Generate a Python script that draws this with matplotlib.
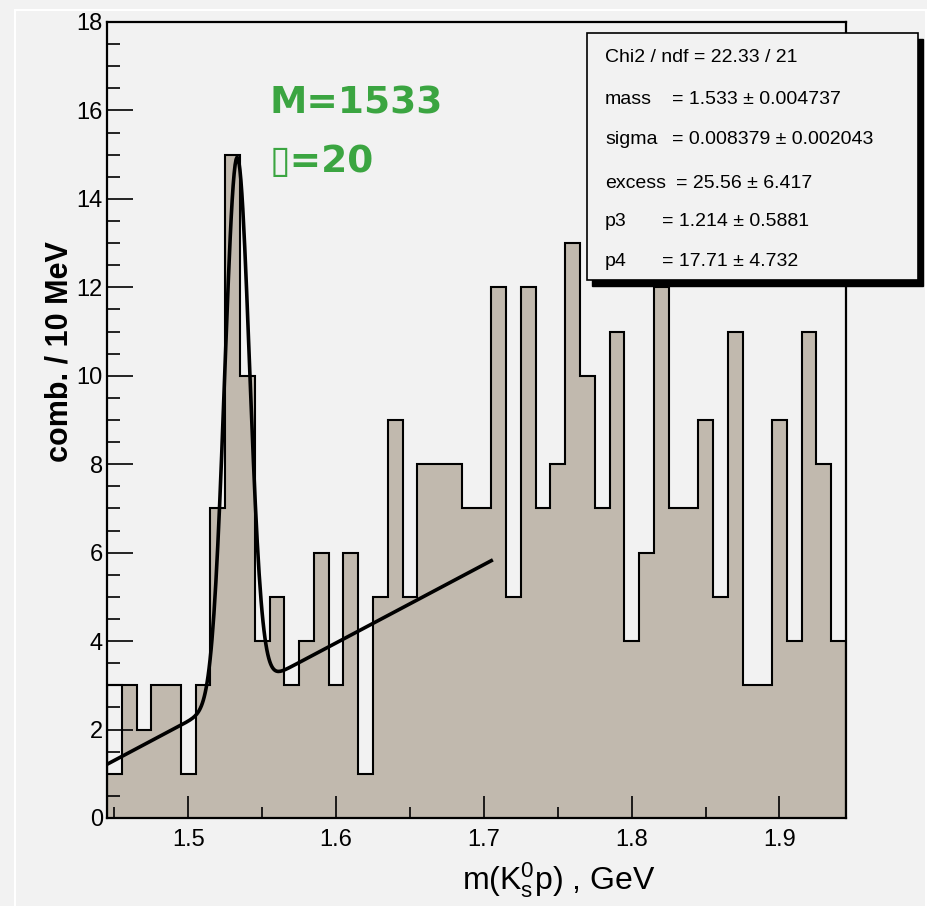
import numpy as np
import matplotlib
matplotlib.use("Agg")
import matplotlib.pyplot as plt
from matplotlib.patches import Rectangle

# histogram: 10 MeV bins starting at 1.445 GeV
x_lo = 1.445
bin_width = 0.01
counts = [1, 3, 2, 3, 3, 1, 3, 7, 15, 10,
          4, 5, 3, 4, 6, 3, 6, 1, 5, 9,
          5, 8, 8, 8, 7, 7, 12, 5, 12, 7,
          8, 13, 10, 7, 11, 4, 6, 12, 7, 7,
          9, 5, 11, 3, 3, 9, 4, 11, 8, 4]
first_bin_frame = 3  # odd outline drawn over the first bin

# fit result (gaus + linear background)
fit_mass, fit_sigma, fit_excess = 1.533, 0.008379, 25.56
fit_p3, fit_p4 = 1.214, 17.71
fit_range = (1.445, 1.705)

stat_names = ["mass", "sigma", "excess", "p3", "p4"]
stat_values = ["1.533 \u00b1 0.004737", "0.008379 \u00b1 0.002043",
               "25.56 \u00b1 6.417", "1.214 \u00b1 0.5881", "17.71 \u00b1 4.732"]
chi2_text = "Chi2 / ndf = 22.33 / 21"

BG = "#f2f2f2"
FILL = "#c1b9ae"
GREEN = "#3ba541"
SANS = ["Liberation Sans", "DejaVu Sans"]

W, H = 928, 906
fig = plt.figure(figsize=(W / 100, H / 100), dpi=100, facecolor=BG)


def fx(px):
    return px / W


def fy(py):
    return 1 - py / H


ax = fig.add_axes([fx(107), fy(818), fx(846 - 107), (818 - 22) / H])
ax.set_facecolor(BG)

edges = x_lo + bin_width * np.arange(len(counts) + 1)
ax.stairs(counts, edges, fill=True, color=FILL, zorder=1)
outline = [first_bin_frame] + counts[1:]
ax.stairs(outline, edges, color="black", lw=1.5, zorder=2)
ax.add_patch(Rectangle((edges[0], counts[0]), bin_width, first_bin_frame - counts[0],
                       fill=False, ec="black", lw=1.5, zorder=2))

# fit curve
xf = np.linspace(fit_range[0], fit_range[1], 400)
amp = fit_excess * bin_width / (np.sqrt(2 * np.pi) * fit_sigma)
yf = amp * np.exp(-0.5 * ((xf - fit_mass) / fit_sigma) ** 2) + fit_p3 + fit_p4 * (xf - x_lo)
ax.plot(xf, yf, color="black", lw=2.6, zorder=3)

ax.set_xlim(1.445, 1.945)
ax.set_ylim(0, 18)
ax.set_xticks([1.5, 1.6, 1.7, 1.8, 1.9])
ax.set_xticks(np.arange(1.45, 1.95, 0.1), minor=True)
ax.set_yticks(np.arange(0, 19, 2))
ax.set_yticks(np.arange(0, 18.01, 0.5), minor=True)
ax.tick_params(which="both", direction="in", top=False, right=False, width=1.2, color="black")
ax.tick_params(axis="y", which="major", length=19, pad=3, labelsize=17)
ax.tick_params(axis="y", which="minor", length=9)
ax.tick_params(axis="x", which="major", length=16, pad=8, labelsize=17)
ax.tick_params(axis="x", which="minor", length=8)
for lab in ax.get_xticklabels() + ax.get_yticklabels():
    lab.set_family(SANS)
for s in ax.spines.values():
    s.set_linewidth(1.6)
    s.set_zorder(4)

# axis titles
fig.text(fx(655), fy(890), r"m(K$\mathregular{_s^0}$p) , GeV", ha="right", va="baseline",
         fontsize=23, family=SANS)
fig.text(fx(60), fy(352), "comb. / 10 MeV", rotation=90, ha="center", va="center",
         fontsize=22, fontweight="bold", family=SANS)

# green annotation
ax.text(fx(270), fy(103), "M=1533", transform=fig.transFigure, ha="left", va="center",
        fontsize=27, fontweight="bold", color=GREEN)
ax.text(fx(270), fy(162), "\u25af=20", transform=fig.transFigure, ha="left", va="center",
        fontsize=27, fontweight="bold", color=GREEN)

# stats box with shadow
bl, bt, br, bb = 587, 33, 918, 280
fig.patches.append(Rectangle((fx(bl + 5), fy(bb + 6)), fx(br - bl), (bb - bt) / H,
                             transform=fig.transFigure, fc="black", ec="black", zorder=5))
fig.patches.append(Rectangle((fx(bl), fy(bb)), fx(br - bl), (bb - bt) / H,
                             transform=fig.transFigure, fc=BG, ec="black", lw=1.2, zorder=6))
line_y = [57, 100, 140, 183, 221, 262]
value_x = [672, 672, 676, 662, 662]
fig.text(fx(605), fy(line_y[0]), chi2_text, ha="left", va="center", fontsize=14,
         family=SANS, zorder=7)
for name, val, y, vx in zip(stat_names, stat_values, line_y[1:], value_x):
    fig.text(fx(605), fy(y), name, ha="left", va="center", fontsize=14, family=SANS, zorder=7)
    fig.text(fx(vx), fy(y), "= " + val, ha="left", va="center", fontsize=14,
             family=SANS, zorder=7)

# light outer frame
fig.patches.append(Rectangle((fx(15), fy(H + 5)), fx(926 - 15), (H - 10 + 5) / H,
                             transform=fig.transFigure, fill=False, ec="white", lw=1.5, zorder=0))

fig.savefig("out.png", dpi=100, facecolor=BG)
